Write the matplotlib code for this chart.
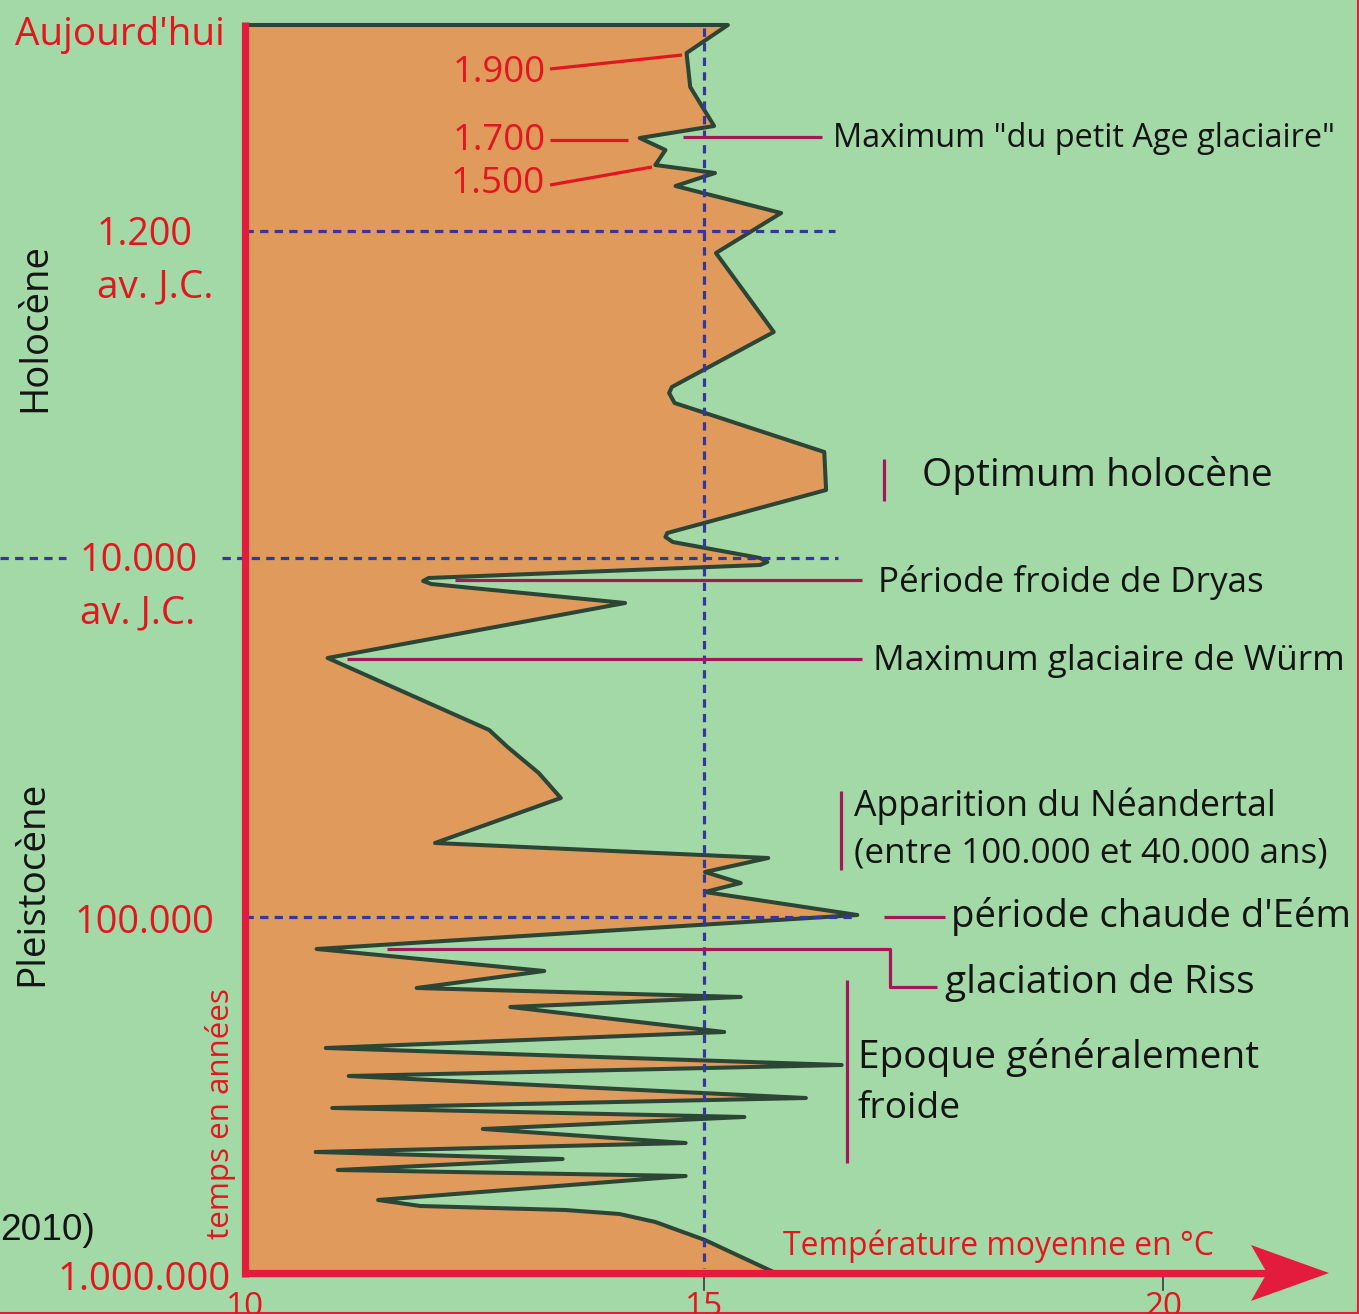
import matplotlib
matplotlib.use('Agg')
import matplotlib.pyplot as plt
from matplotlib.patches import Polygon

plt.rcParams['lines.scale_dashes'] = False

# ---------------- data ----------------
# temperature (°C) of the curve, read from top (today) to bottom (1.000.000 years)
curve_temp = [15.26, 14.81, 14.85, 15.11, 14.30, 14.58, 14.47, 15.12, 14.69, 15.84,
              15.13, 15.76, 14.65, 14.62, 14.68, 16.31, 16.33, 14.60, 14.58, 14.66,
              15.61, 15.69, 15.61, 12.00, 11.94, 12.03, 14.14, 10.90, 12.66, 12.86,
              13.20, 13.44, 12.07, 15.70, 15.01, 15.40, 15.01, 16.67, 10.78, 13.26,
              11.87, 15.40, 12.89, 15.22, 10.88, 16.50, 11.13, 16.11, 10.95, 15.44,
              12.59, 14.80, 10.77, 13.46, 11.01, 14.80, 11.45, 11.91, 13.49, 14.08,
              14.47, 15.01, 15.78]
# position of each point along the (non-linear) time axis
curve_pos = [25, 53, 87, 126, 138, 150, 165, 173, 186, 213,
             253, 332, 387, 393, 403, 452, 490, 533, 537, 542,
             558, 562, 565, 578, 581, 584, 603, 658, 730, 747,
             773, 798, 843, 858, 872, 883, 892, 915, 949, 971,
             988, 997, 1007, 1032, 1048, 1065, 1076, 1098, 1108, 1117,
             1129, 1143, 1152, 1159, 1170, 1176, 1200, 1206, 1210, 1214,
             1222, 1240, 1273]

x_ticks = [10, 15, 20]
x_label = "Température moyenne en °C"
time_labels = ["Aujourd'hui", "1.200", "av. J.C.", "10.000", "av. J.C.", "100.000", "1.000.000"]
time_ref_pos = [231, 558, 917]          # dotted reference lines (1.200 / 10.000 / 100.000)
ref_temp = 15
century_labels = ["1.900", "1.700", "1.500"]
period_labels = ["Holocène", "Pleistocène"]
y_label = "temps en années"
events = ['Maximum "du petit Age glaciaire"', "Optimum holocène", "Période froide de Dryas",
          "Maximum glaciaire de Würm", "Apparition du Néandertal",
          "(entre 100.000 et 40.000 ans)", "période chaude d'Eém", "glaciation de Riss",
          "Epoque généralement", "froide"]
source_text = "2010)"

# ---------------- style ----------------
W, H, DPI = 1359, 1314, 100
BG = '#a3d9a6'
ORANGE = '#e09a5b'
CURVE = '#2c4535'
AXRED = '#e31c3d'
TXTRED = '#e3161f'
CRIMSON = '#a3185a'
NAVY = '#35379a'
BLACK = '#141414'
FONT = ['Open Sans', 'DejaVu Sans']
PX10, PXDEG = 245, 91.8

fig = plt.figure(figsize=(W / DPI, H / DPI), dpi=DPI, facecolor=BG)
ax = fig.add_axes([0, 0, 1, 1])
ax.set_xlim(10 - PX10 / PXDEG, 10 + (W - PX10) / PXDEG)
ax.set_ylim(H, 0)
ax.axis('off')
ov = fig.add_axes([0, 0, 1, 1])
ov.set_xlim(0, W)
ov.set_ylim(H, 0)
ov.axis('off')
ov.patch.set_alpha(0)

# filled temperature profile
ax.fill_betweenx(curve_pos, x_ticks[0], curve_temp, color=ORANGE, lw=0, zorder=1)
ax.plot([x_ticks[0]] + curve_temp, [curve_pos[0]] + curve_pos, color=CURVE, lw=2.9,
        solid_joinstyle='round', solid_capstyle='round', zorder=2)

# dotted reference lines
dot = dict(color=NAVY, lw=2.3, dashes=(6.0, 4.5), zorder=3)
ax.plot([ref_temp, ref_temp], [28, 1268], **dot)
ov.plot([245, 835], [time_ref_pos[0]] * 2, **dot)
ov.plot([0, 66], [time_ref_pos[1]] * 2, **dot)
ov.plot([222, 838], [time_ref_pos[1]] * 2, **dot)
ov.plot([245, 855], [time_ref_pos[2]] * 2, **dot)

# annotation connectors
cl = dict(color=CRIMSON, lw=2.3, solid_capstyle='butt', zorder=4)
ov.plot([683, 822], [137, 137], **cl)
ov.plot([884, 884], [459, 501], **cl)
ov.plot([455, 862], [580, 580], **cl)
ov.plot([347, 862], [659, 659], **cl)
ov.plot([841, 841], [791, 870], **cl)
ov.plot([884, 945], [917, 917], **cl)
ov.plot([387, 890, 890, 937], [949, 949, 987, 987], **cl)
ov.plot([847, 847], [980, 1163], **cl)
rl = dict(color=TXTRED, lw=2.3, solid_capstyle='butt', zorder=4)
ov.plot([550, 682], [69, 55], **rl)
ov.plot([550, 628], [140, 140], **rl)
ov.plot([550, 652], [185, 167], **rl)

# axes (red) and arrow
ov.plot([245, 245], [22, 1277], color=AXRED, lw=5.2, solid_capstyle='butt', zorder=5)
ov.plot([242, 1268], [1273, 1273], color=AXRED, lw=5.2, solid_capstyle='butt', zorder=5)
ov.add_patch(Polygon([(1329, 1273), (1251, 1245), (1267, 1273), (1251, 1301)],
                     closed=True, color=AXRED, lw=0, zorder=5))
for t in x_ticks[1:]:
    ax.plot([t, t], [1277, 1290], color='#3a3a3a', lw=1.2, zorder=5)
# thin frame
ov.plot([1357.5, 1357.5], [0, H], color=AXRED, lw=1.5, zorder=6)
ov.plot([0, W], [1312.5, 1312.5], color=AXRED, lw=1.5, zorder=6)

renderer = fig.canvas.get_renderer()


def label(s, x, y, length, color, rot=0, ha='left', family=FONT):
    t = ov.text(x, y, s, fontsize=20, color=color, family=family, rotation=rot,
                ha=ha, va='baseline', rotation_mode='anchor', zorder=7)
    bb = t.get_window_extent(renderer)
    size = bb.height if rot else bb.width
    t.set_fontsize(20 * length / size)
    return t


# left time labels
label(time_labels[0], 15, 45, 210, TXTRED)
label(time_labels[1], 97, 245, 96, TXTRED)
label(time_labels[2], 97, 297, 116, TXTRED)
label(time_labels[3], 80, 571, 118, TXTRED)
label(time_labels[4], 80, 623, 115, TXTRED)
label(time_labels[5], 75, 933, 140, TXTRED)
label(time_labels[6], 57, 1290, 173, TXTRED)

# century labels
label(century_labels[0], 453, 82, 93, TXTRED)
label(century_labels[1], 453, 150, 93, TXTRED)
label(century_labels[2], 451, 193, 94, TXTRED)

# period labels (vertical)
label(period_labels[0], 45, 327, 169, BLACK, rot=90, ha='center')
label(period_labels[1], 42, 883, 205, BLACK, rot=90, ha='center')
label(y_label, 229, 1114, 250, TXTRED, rot=90, ha='center')

# x axis (tick labels sit partly below the picture edge, as in the original)
for t in x_ticks:
    label(str(t), PX10 + (t - 10) * PXDEG, 1316, 38, TXTRED, ha='center')
label(x_label, 783, 1255, 429, TXTRED)

label(source_text, 0, 1240, 95, BLACK, family=['Liberation Sans', 'DejaVu Sans'])

# event labels
ev_pos = [(833, 147, 504), (922, 486, 351), (878, 592, 383), (873, 670, 471),
          (854, 816, 421), (854, 862, 472), (951, 927, 400), (945, 993, 309),
          (858, 1068, 400), (858, 1118, 103)]
for s, (x, y, w) in zip(events, ev_pos):
    label(s, x, y, w, BLACK)

fig.savefig('out.png', dpi=DPI, facecolor=BG)
